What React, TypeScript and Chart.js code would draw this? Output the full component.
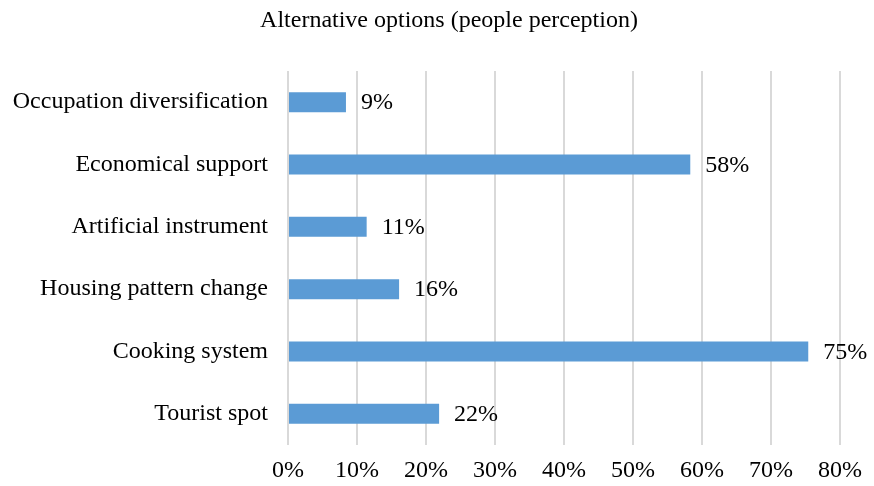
import React, { useEffect, useRef } from "react";
import { Chart, registerables } from "chart.js";

Chart.register(...registerables);

const categories = [
  "Occupation diversification",
  "Economical support",
  "Artificial instrument",
  "Housing pattern change",
  "Cooking system",
  "Tourist spot",
];
const values = [8.4, 58.3, 11.4, 16.1, 75.4, 21.9];
const valueLabels = ["9%", "58%", "11%", "16%", "75%", "22%"];
const xTicks = [0, 10, 20, 30, 40, 50, 60, 70, 80];
const title = "Alternative options (people perception)";

const FONT = "'Liberation Serif', 'Times New Roman', serif";

const labelPlugin = {
  id: "valueLabels",
  afterDatasetsDraw(chart: any) {
    const ctx = chart.ctx;
    const meta = chart.getDatasetMeta(0);
    ctx.save();
    ctx.font = `24px ${FONT}`;
    ctx.fillStyle = "#000";
    ctx.textAlign = "left";
    ctx.textBaseline = "middle";
    meta.data.forEach((bar: any, i: number) => {
      ctx.fillText(valueLabels[i], bar.x + 15, bar.y + 1);
    });
    // title, centred over the plot + label block like the reference
    ctx.font = `24px ${FONT}`;
    ctx.textAlign = "center";
    ctx.textBaseline = "alphabetic";
    ctx.fillText(title, 449, 27);
    ctx.restore();
  },
};

export default function App() {
  const ref = useRef<HTMLCanvasElement>(null);
  useEffect(() => {
    document.body.style.margin = "0";
    const chart = new Chart(ref.current!, {
      type: "bar",
      data: {
        labels: categories,
        datasets: [
          {
            data: values,
            backgroundColor: "#5b9bd5",
            barPercentage: 0.32,
            categoryPercentage: 1,
          },
        ],
      },
      options: {
        indexAxis: "y",
        animation: false,
        responsive: false,
        layout: { padding: { left: 0, right: 34, top: 71, bottom: 0 } },
        plugins: {
          legend: { display: false },
          tooltip: { enabled: false },
          title: { display: false },
        },
        scales: {
          x: {
            min: 0,
            max: 80,
            afterBuildTicks(scale: any) {
              scale.ticks = xTicks.map((v) => ({ value: v }));
            },
            afterFit(scale: any) {
              scale.height = 41;
            },
            ticks: {
              color: "#000",
              font: { family: FONT, size: 24 },
              padding: 11,
              callback: (v: any) => `${v}%`,
              maxRotation: 0,
            },
            grid: { color: "#d9d9d9", lineWidth: 2, drawTicks: false },
            border: { display: false },
          },
          y: {
            afterFit(scale: any) {
              scale.width = 288;
            },
            ticks: {
              color: "#000",
              font: { family: FONT, size: 24 },
              padding: 20,
            },
            grid: { display: false, drawTicks: false },
            border: { display: false },
          },
        },
      },
      plugins: [labelPlugin],
    });
    return () => chart.destroy();
  }, []);
  return <canvas ref={ref} width={874} height={486} style={{ display: "block" }} />;
}
